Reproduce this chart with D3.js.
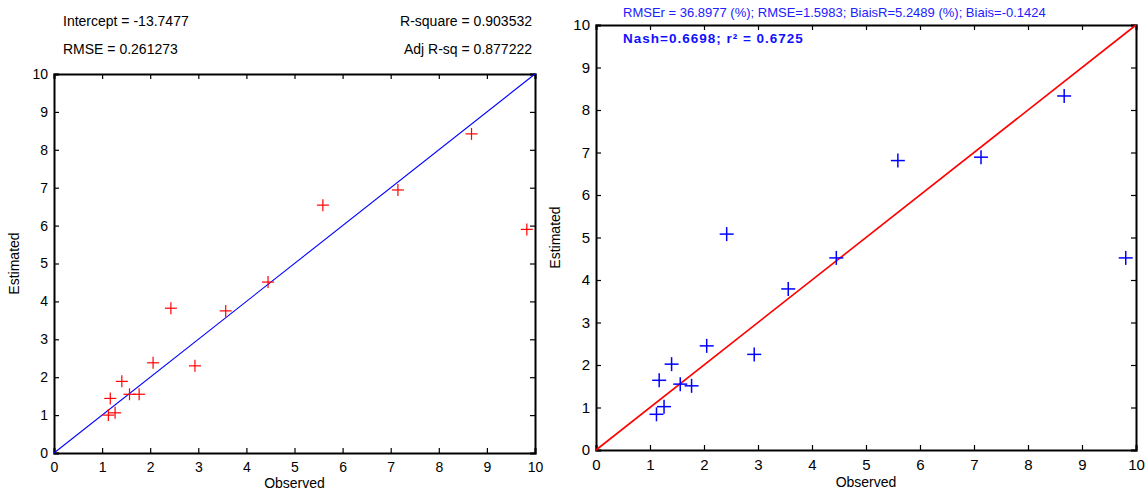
<!DOCTYPE html>
<html><head><meta charset="utf-8">
<script src="https://cdn.jsdelivr.net/npm/d3@7"></script>
<style>
body{margin:0;background:#fff;}
svg{display:block;font-family:"Liberation Sans",Arial,sans-serif;}
</style></head>
<body>
<svg id="c" width="1145" height="493"></svg>
<script>
// Data
const observed   = [1.13, 1.17, 1.27, 1.41, 1.57, 1.77, 2.06, 2.43, 2.93, 3.57, 4.45, 5.59, 7.15, 8.68, 9.83];
const estLeft    = [1.00, 1.44, 1.06, 1.89, 1.55, 1.55, 2.38, 3.82, 2.30, 3.75, 4.51, 6.54, 6.94, 8.42, 5.90];
const obsRight   = [1.12, 1.17, 1.26, 1.40, 1.56, 1.77, 2.05, 2.42, 2.93, 3.56, 4.45, 5.59, 7.13, 8.67, 9.81];
const estRight   = [0.84, 1.64, 1.02, 2.02, 1.55, 1.51, 2.45, 5.08, 2.25, 3.79, 4.52, 6.81, 6.89, 8.33, 4.52];
const tickValues = [0,1,2,3,4,5,6,7,8,9,10];
const domainXY   = [0, 10];
const leftStats  = ["Intercept = -13.7477", "R-square = 0.903532", "RMSE = 0.261273", "Adj R-sq = 0.877222"];
const rightStats = ["RMSEr = 36.8977 (%); RMSE=1.5983; BiaisR=5.2489 (%); Biais=-0.1424", "Nash=0.6698; r\u00b2 = 0.6725"];
const xLabel = "Observed", yLabel = "Estimated";

const svg = d3.select("#c");

function panel(o){
  const x = d3.scaleLinear().domain(domainXY).range([o.x0, o.x1]);
  const y = d3.scaleLinear().domain(domainXY).range([o.y0, o.y1]);
  const g = svg.append("g");
  const ts = 5;
  const ax = g.append("g").attr("transform",`translate(0,${o.y0})`)
    .call(d3.axisBottom(x).tickValues(tickValues).tickSize(-ts).tickPadding(6).tickFormat(d3.format("d")));
  const axT = g.append("g").attr("transform",`translate(0,${o.y1})`)
    .call(d3.axisTop(x).tickValues(tickValues).tickSize(-ts).tickFormat(""));
  const ay = g.append("g").attr("transform",`translate(${o.x0},0)`)
    .call(d3.axisLeft(y).tickValues(tickValues).tickSize(-ts).tickPadding(6).tickFormat(d3.format("d")));
  const ayR = g.append("g").attr("transform",`translate(${o.x1},0)`)
    .call(d3.axisRight(y).tickValues(tickValues).tickSize(-ts).tickFormat(""));
  [ax,axT,ay,ayR].forEach(a=>{
    a.select(".domain").attr("stroke","#000").attr("stroke-width",2);
    a.selectAll(".tick line").attr("stroke","#000").attr("stroke-width",1.2);
    a.selectAll("text").attr("fill","#000").style("font-size",o.fs+"px").style("font-family","'Liberation Sans',Arial,sans-serif");
  });
  ax.selectAll("text").attr("dy","0.9em");
  g.append("line").attr("x1",x(0)).attr("y1",y(0)).attr("x2",x(10)).attr("y2",y(10))
    .attr("stroke",o.lineColor).attr("stroke-width",o.lw);
  const m = o.ms;
  const pts = g.append("g").selectAll("g").data(o.xs.map((d,i)=>[d,o.ys[i]])).join("g")
    .attr("transform",d=>`translate(${x(d[0])},${y(d[1])})`);
  pts.append("line").attr("x1",-m).attr("x2",m).attr("stroke",o.markColor).attr("stroke-width",o.mw);
  pts.append("line").attr("y1",-m).attr("y2",m).attr("stroke",o.markColor).attr("stroke-width",o.mw);
  g.append("text").attr("x",(o.x0+o.x1)/2).attr("y",o.xlY).attr("text-anchor","middle")
    .style("font-size","14px").text(xLabel);
  g.append("text").attr("transform",`translate(${o.ylX},${(o.y0+o.y1)/2}) rotate(-90)`).attr("text-anchor","middle")
    .style("font-size","14px").text(yLabel);
  return {x,y,g};
}

panel({x0:54,x1:535,y0:453,y1:74,fs:14,lineColor:"#0000ff",lw:1.1,markColor:"#ff0000",ms:6,mw:1.2,
  xs:observed,ys:estLeft,xlY:488,ylX:19});
panel({x0:596,x1:1136,y0:450,y1:25,fs:15,lineColor:"#ff0000",lw:1.6,markColor:"#0000ff",ms:7,mw:1.5,
  xs:obsRight,ys:estRight,xlY:487,ylX:560});

const hs = "14px";
svg.append("text").attr("x",63).attr("y",26).style("font-size",hs).text(leftStats[0]);
svg.append("text").attr("x",532).attr("y",26).attr("text-anchor","end").style("font-size",hs).text(leftStats[1]);
svg.append("text").attr("x",63).attr("y",54).style("font-size",hs).text(leftStats[2]);
svg.append("text").attr("x",532).attr("y",54).attr("text-anchor","end").style("font-size",hs).text(leftStats[3]);
svg.append("text").attr("x",623).attr("y",17).attr("fill","#2020ff").style("font-size","13px").text(rightStats[0]);
svg.append("text").attr("x",623).attr("y",43).attr("fill","#1010ff").style("font-size","13.5px").style("font-weight","bold").style("letter-spacing","1px").text(rightStats[1]);
</script>
</body></html>
